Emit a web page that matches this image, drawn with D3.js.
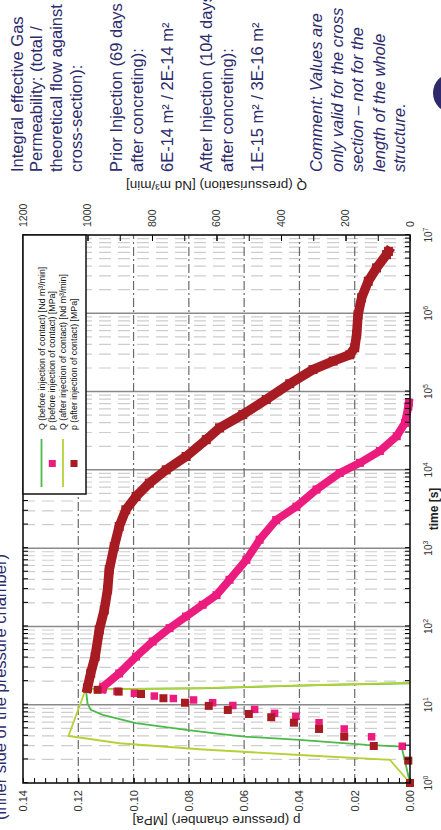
<!DOCTYPE html>
<html>
<head>
<meta charset="utf-8">
<script src="https://cdn.jsdelivr.net/npm/d3@7"></script>
<style>
  body { margin: 0; background: #fff; }
  svg { display: block; font-family: "Liberation Sans", Arial, sans-serif; }
</style>
</head>
<body>
<svg id="chart" width="441" height="830"></svg>
<script>
// ---- data ----
const seriesNames = [
  "Q (before injection of contact) [Nd m³/min]",
  "p (before injection of contact) [MPa]",
  "Q (after injection of contact) [Nd m³/min]",
  "p (after injection of contact) [MPa]"
];

// flow Q, time in s
const qBeforeTime  = [1, 2.91, 3.06, 3.55, 3.91, 4.24, 4.76, 5.8, 7.4, 8.6, 10.4, 15.8, 16.2, 17.9, 18.8];
const qBeforeValue = [0, 26, 135, 342, 513, 591, 694, 850, 953, 990, 1000, 1005, 650, 250, 0];
const qAfterTime   = [1, 1.97, 2.28, 2.7, 3.22, 3.99, 14.0, 15.6, 16.3, 18.0, 19.0];
const qAfterValue  = [0, 62, 342, 653, 901, 1059, 1010, 1005, 650, 250, 0];

// pressure p before injection: single squares during filling, then the dense decay
const pBeforeFillTime  = [2.95, 3.89, 4.9, 5.89, 7.08, 7.76, 8.71, 9.77, 10.6, 11.5, 12.0, 12.9, 14.0, 14.8, 15.8];
const pBeforeFillValue = [0.0028, 0.0139, 0.0238, 0.0329, 0.0413, 0.049, 0.0562, 0.0641, 0.0714, 0.0783, 0.0856, 0.0925, 0.0997, 0.106, 0.1112];
const pBeforeDecayTime  = [15.8, 17.0, 25.1, 41.2, 64.1, 95.1, 134, 189, 251, 394, 708, 1280, 2290, 3390, 5620, 9120, 12300, 17400, 26900, 39800, 64600, 72400];
const pBeforeDecayValue = [0.1112, 0.111, 0.1052, 0.0991, 0.0931, 0.087, 0.081, 0.075, 0.070, 0.0653, 0.0592, 0.0544, 0.0484, 0.0411, 0.0338, 0.0254, 0.0181, 0.0109, 0.0048, 0.0018, 0.0006, 0.0004];

// pressure p after injection
const pAfterFillTime  = [1, 1.93, 2.97, 3.91, 4.9, 5.9, 6.92, 7.62, 8.57, 9.66, 10.6, 12.1, 13.7, 14.7, 15.5, 16.3];
const pAfterFillValue = [0, 0.0006, 0.0131, 0.0238, 0.0329, 0.042, 0.0502, 0.0583, 0.0659, 0.0728, 0.0814, 0.0892, 0.0973, 0.1054, 0.113, 0.1167];
const pAfterDecayTime  = [16.3, 25.3, 41.2, 90.6, 162, 295, 530, 1050, 1890, 3090, 4570, 6760, 10000, 14800, 24300, 34400, 50800, 79100, 126000, 191000, 245000, 295000, 363000, 537000, 955000, 1580000, 2570000, 3800000, 5620000, 6170000];
const pAfterDecayValue = [0.1167, 0.1155, 0.1139, 0.1124, 0.1106, 0.1094, 0.1088, 0.107, 0.1052, 0.1028, 0.0991, 0.0943, 0.0882, 0.081, 0.0737, 0.0689, 0.0605, 0.052, 0.0435, 0.0351, 0.0278, 0.0218, 0.02, 0.0193, 0.0188, 0.0175, 0.0151, 0.0121, 0.0085, 0.0078];

// tick labels
const timeTicks = [1, 10, 100, 1000, 10000, 100000, 1000000, 10000000];
const pTicks = [0, 0.02, 0.04, 0.06, 0.08, 0.10, 0.12, 0.14];
const qTicks = [0, 200, 400, 600, 800, 1000, 1200];

const noteLines = [
  "Integral effective Gas",
  "Permeability: (total /",
  "theoretical flow against",
  "cross-section):",
  "Prior Injection (69 days",
  "after concreting):",
  "6E-14 m² / 2E-14 m²",
  "After Injection (104 days",
  "after concreting):",
  "1E-15 m² / 3E-16 m²",
  "Comment: Values are",
  "only valid for the cross",
  "section \u2013 not for the",
  "length of the whole",
  "structure."
];
const sideTitle = "(inner side of the pressure chamber)";

// ---- colours ----
const cQBefore = "#4cb94c";
const cQAfter = "#b3d235";
const cPBefore = "#ec1c7f";
const cPAfter = "#a61c22";
const cText = "#2d2b6c";

const zip = (ts, vs) => ts.map((t, i) => ({ t: t, v: vs[i] }));

// the slide is landscape (830 x 441) and was photographed turned on its side
const svg = d3.select("#chart");
const g = svg.append("g").attr("transform", "translate(0,830) rotate(-90)");

const plotL = 47, plotR = 595, plotT = 23, plotB = 410;

const x = d3.scaleLog().domain([1, 1e7]).range([plotL, plotR]);
const yP = d3.scaleLinear().domain([0, 0.14]).range([plotB, plotT]);
const yQ = d3.scaleLinear().domain([0, 1200]).range([plotB, plotT]);

// ---- grid ----
const allTimeTicks = x.ticks();
const isDecade = t => Math.abs(Math.log10(t) - Math.round(Math.log10(t))) < 1e-9;

g.append("g").selectAll("line")
  .data(allTimeTicks.filter(t => !isDecade(t)))
  .join("line")
  .attr("x1", d => x(d)).attr("x2", d => x(d))
  .attr("y1", plotT).attr("y2", plotB)
  .attr("stroke", "#cdcdcd").attr("stroke-width", 1.2)
  .attr("stroke-dasharray", "12,7");

g.append("g").selectAll("line")
  .data(timeTicks.slice(1, -1))
  .join("line")
  .attr("x1", d => x(d)).attr("x2", d => x(d))
  .attr("y1", plotT).attr("y2", plotB)
  .attr("stroke", "#8a8a8a").attr("stroke-width", 1.5);

g.append("g").selectAll("line")
  .data(pTicks.slice(1, -1))
  .join("line")
  .attr("x1", plotL).attr("x2", plotR)
  .attr("y1", d => yP(d)).attr("y2", d => yP(d))
  .attr("stroke", "#6a6a6a").attr("stroke-width", 1.2)
  .attr("stroke-dasharray", "9,3,2,3");

// ---- series ----
const qLine = d3.line().x(d => x(d.t)).y(d => yQ(d.v));
const pLine = d3.line().x(d => x(d.t)).y(d => yP(d.v));

g.append("path").datum(zip(qBeforeTime, qBeforeValue))
  .attr("d", qLine).attr("fill", "none")
  .attr("stroke", cQBefore).attr("stroke-width", 1.8);
g.append("path").datum(zip(qAfterTime, qAfterValue))
  .attr("d", qLine).attr("fill", "none")
  .attr("stroke", cQAfter).attr("stroke-width", 1.8);

function squares(data, color, size) {
  g.append("g").selectAll("rect")
    .data(data)
    .join("rect")
    .attr("x", d => x(d.t) - size / 2)
    .attr("y", d => yP(d.v) - size / 2)
    .attr("width", size).attr("height", size)
    .attr("fill", color);
}
function band(data, color, width) {
  g.append("path").datum(data)
    .attr("d", pLine).attr("fill", "none")
    .attr("stroke", color).attr("stroke-width", width)
    .attr("stroke-linejoin", "miter").attr("stroke-linecap", "square");
}

squares(zip(pBeforeFillTime, pBeforeFillValue), cPBefore, 7.5);
band(zip(pBeforeDecayTime, pBeforeDecayValue), cPBefore, 8);
squares(zip(pBeforeDecayTime, pBeforeDecayValue), cPBefore, 8);

squares(zip(pAfterFillTime, pAfterFillValue), cPAfter, 8);
band(zip(pAfterDecayTime, pAfterDecayValue), cPAfter, 9.5);
squares(zip(pAfterDecayTime, pAfterDecayValue), cPAfter, 9);

// ---- axes ----
const tickFont = sel => sel.selectAll("text")
  .attr("fill", "#333").attr("font-family", "Liberation Sans, Arial, sans-serif");

// p axis (left of the slide)
g.append("g").attr("transform", `translate(${plotL},0)`)
  .call(d3.axisLeft(yP).tickValues(d3.range(36).map(i => i * 0.004)).tickSize(-5).tickFormat(""))
  .call(a => a.select(".domain").remove());
g.append("g").attr("transform", `translate(${plotL},0)`)
  .call(d3.axisLeft(yP).tickValues(pTicks).tickSize(-5).tickPadding(7).tickFormat(d3.format(".2f")))
  .call(a => a.select(".domain").remove())
  .call(tickFont)
  .attr("font-size", 11);

// Q axis (right of the slide)
g.append("g").attr("transform", `translate(${plotR},0)`)
  .call(d3.axisRight(yQ).tickValues(d3.range(13).map(i => i * 100)).tickSize(-6).tickFormat(""))
  .call(a => a.select(".domain").remove());
g.append("g").attr("transform", `translate(${plotR},0)`)
  .call(d3.axisRight(yQ).tickValues(qTicks).tickSize(-6).tickPadding(8).tickFormat(d3.format("d")))
  .call(a => a.select(".domain").remove())
  .call(tickFont)
  .attr("font-size", 10.5);

// time axes, ticks inside on both edges
g.append("g").attr("transform", `translate(0,${plotB})`)
  .call(d3.axisBottom(x).tickValues(allTimeTicks).tickSize(-5).tickFormat(""))
  .call(a => a.select(".domain").remove());
g.append("g").attr("transform", `translate(0,${plotT})`)
  .call(d3.axisTop(x).tickValues(allTimeTicks).tickSize(-5).tickFormat(""))
  .call(a => a.select(".domain").remove());

const tLabels = g.append("g").selectAll("text")
  .data(timeTicks)
  .join("text")
  .attr("x", d => x(d)).attr("y", plotB + 22)
  .attr("text-anchor", "middle")
  .attr("font-size", 10).attr("fill", "#333");
tLabels.append("tspan").text("10");
tLabels.append("tspan").attr("dy", -4).attr("font-size", 7).text(d => Math.round(Math.log10(d)));

// frame
g.append("rect")
  .attr("x", plotL).attr("y", plotT)
  .attr("width", plotR - plotL).attr("height", plotB - plotT)
  .attr("fill", "none").attr("stroke", "#111").attr("stroke-width", 1.6);

// axis titles
g.append("text")
  .attr("transform", `translate(14,${(plotT + plotB) / 2}) rotate(-90)`)
  .attr("text-anchor", "middle").attr("font-size", 13.5).attr("fill", "#222")
  .text("p (pressure chamber) [MPa]");
g.append("text")
  .attr("transform", `translate(649,${(plotT + plotB) / 2}) rotate(-90)`)
  .attr("text-anchor", "middle").attr("font-size", 13.5).attr("fill", "#222")
  .text("Q (pressurisation) [Nd m³/min]");
g.append("text")
  .attr("x", (plotL + plotR) / 2).attr("y", 438)
  .attr("text-anchor", "middle").attr("font-size", 12).attr("font-weight", "bold").attr("fill", "#222")
  .text("time [s]");

// ---- legend ----
const lg = g.append("g");
lg.append("rect")
  .attr("x", 336).attr("y", plotT)
  .attr("width", plotR - 336).attr("height", 86 - plotT)
  .attr("fill", "#fff").attr("stroke", "#111").attr("stroke-width", 1.5);
const rowY = [41.5, 52.3, 63, 74];
const legendKinds = [
  { line: cQBefore }, { square: cPBefore }, { line: cQAfter }, { square: cPAfter }
];
seriesNames.forEach((name, i) => {
  const k = legendKinds[i];
  if (k.line) {
    lg.append("line").attr("x1", 343).attr("x2", 391)
      .attr("y1", rowY[i]).attr("y2", rowY[i])
      .attr("stroke", k.line).attr("stroke-width", 1.8);
  } else {
    lg.append("rect").attr("x", 363).attr("y", rowY[i] - 3.5)
      .attr("width", 7).attr("height", 7).attr("fill", k.square);
  }
  lg.append("text").attr("x", 400).attr("y", rowY[i] + 3)
    .attr("font-size", 8.8).attr("fill", "#111").text(name);
});

// ---- notes on the right of the slide ----
const noteBase = [23, 42, 62, 82, 122, 143, 173, 212, 233, 263, 322, 343, 363, 385, 405];
g.append("g").selectAll("text")
  .data(noteLines)
  .join("text")
  .attr("x", 658).attr("y", (d, i) => noteBase[i])
  .attr("font-size", 16.5).attr("fill", cText)
  .attr("font-style", (d, i) => i >= 10 ? "italic" : "normal")
  .text(d => d);

// slide title, mostly off the page
g.append("text")
  .attr("x", 10).attr("y", 6)
  .attr("font-size", 16.5).attr("fill", cText)
  .text(sideTitle);

// corner of the logo
g.append("circle").attr("cx", 737).attr("cy", 453).attr("r", 20).attr("fill", cText);
</script>
</body>
</html>
